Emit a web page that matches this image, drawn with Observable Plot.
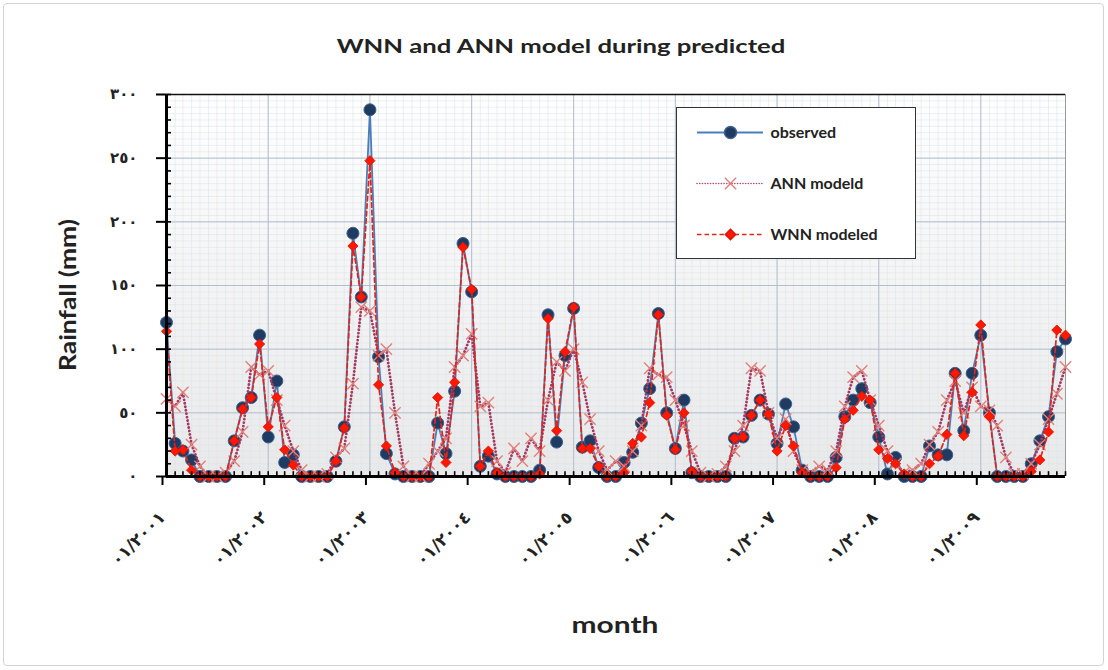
<!DOCTYPE html>
<html><head><meta charset="utf-8">
<script src="https://cdn.jsdelivr.net/npm/d3@7"></script>
<script src="https://cdn.jsdelivr.net/npm/@observablehq/plot@0.6"></script>
<style>
html,body{margin:0;padding:0;background:#fff;}
#chart{position:relative;width:1108px;height:670px;overflow:hidden;font-family:Lato,"DejaVu Sans",sans-serif;}
#frame{position:absolute;left:3px;top:3px;width:1101px;height:663px;border:1px solid #d4d4d4;border-radius:4px;box-sizing:border-box;}
#bg{position:absolute;left:166px;top:94px;width:899px;height:382px;background:linear-gradient(#ffffff,#e9e9e9);}
.lbl{position:absolute;font-weight:bold;color:#222;white-space:nowrap;}
#title{left:561px;top:45px;font-size:19px;transform:translate(-50%,-50%) scaleX(1.35);}
#xlab{left:615px;top:624px;font-size:23px;transform:translate(-50%,-50%) scaleX(1.3);}
#ylab{left:67px;top:295px;font-size:22px;transform:translate(-50%,-50%) rotate(-90deg) scaleX(1.2);}
#main{position:absolute;left:0;top:0;}
#legend{position:absolute;left:676px;top:107px;width:240px;height:152px;border:1.5px solid #333;background:#fff;box-sizing:border-box;}
</style></head>
<body>
<div id="chart">
  <div id="frame"></div>
  <div id="bg"></div>
  <div id="main"></div>
  <div id="legend"></div>
  <div class="lbl" id="title">WNN and ANN model during predicted</div>
  <div class="lbl" id="xlab">month</div>
  <div class="lbl" id="ylab">Rainfall (mm)</div>
</div>
<script>
// ---- data (monthly, Jan 2001 .. Nov 2009) ----
const observed = [121,26,20,13,0,0,0,0,28,54,62,111,
  31,75,11,17,0,0,0,0,12,39,191,141,
  288,94,18,2,0,0,0,0,42,18,67,183,
  145,8,16,2,0,0,0,0,5,127,27,95,
  132,23,28,7,0,0,11,19,42,69,128,50,
  22,60,3,0,0,0,0,30,31,48,60,49,
  26,57,39,5,0,0,0,15,47,60,69,58,
  31,2,15,0,0,0,24,17,17,81,36,81,
  111,50,0,0,0,0,10,28,47,98,108];
const annModel = [61,55,66,25,8,0,0,3,12,35,86,80,
  83,60,40,20,5,0,0,2,15,22,73,133,
  130,95,100,50,8,0,0,10,20,30,86,95,
  112,55,58,12,3,22,12,30,20,60,90,83,
  100,74,45,20,5,12,8,20,40,85,80,78,
  60,40,20,3,0,2,8,20,40,85,83,50,
  30,45,20,5,3,8,5,20,55,78,83,60,
  40,20,10,3,5,10,25,35,60,75,50,70,
  55,52,40,15,2,2,10,25,45,65,86];
const wnnModel = [114,20,21,5,0,0,0,0,28,53,62,104,
  39,62,21,9,0,0,0,0,12,38,181,141,
  248,72,24,3,0,0,0,0,62,11,74,180,
  147,8,20,3,0,0,0,0,2,124,36,98,
  133,22,22,8,0,0,3,26,31,58,127,48,
  21,50,4,0,0,0,0,30,31,48,60,49,
  20,40,24,3,0,0,0,7,45,52,63,60,
  21,14,10,2,0,0,10,16,33,81,32,66,
  119,47,0,0,0,0,4,13,35,115,111];
const years = [2001,2002,2003,2004,2005,2006,2007,2008,2009];
const xTickLabels = ["٠١/٢٠٠١","٠١/٢٠٠٢","٠١/٢٠٠٣","٠١/٢٠٠٤","٠١/٢٠٠٥","٠١/٢٠٠٦","٠١/٢٠٠٧","٠١/٢٠٠٨","٠١/٢٠٠٩"];
const yTicks = [0,50,100,150,200,250,300];
const yTickLabels = ["٠","٥٠","١٠٠","١٥٠","٢٠٠","٢٥٠","٣٠٠"];
const seriesNames = ["observed","ANN modeld","WNN modeled"];

// ---- build table ----
const months = d3.utcMonth.range(new Date(Date.UTC(2001,0,1)), new Date(Date.UTC(2009,11,1)));
const data = months.map((d,i)=>({date:d, obs:observed[i], ann:annModel[i], wnn:wnnModel[i]}));
const yearDates = years.map(y=>new Date(Date.UTC(y,0,1)));
const x0 = months[0], x1 = months[months.length-1];
const minorY = d3.range(0,301,10);
const minorGridY = d3.range(0,301,5);

const main = Plot.plot({
  width:1108, height:670,
  marginLeft:166, marginRight:43, marginTop:94, marginBottom:194,
  style:{background:"transparent", fontFamily:"'DejaVu Sans'", fontSize:"14px", fontWeight:"bold", color:"#222", overflow:"visible"},
  x:{type:"utc", domain:[x0,x1]},
  y:{domain:[0,300]},
  marks:[
    // minor grid
    Plot.ruleY(minorGridY, {stroke:"#dfe4ea", strokeWidth:0.6}),
    Plot.ruleX(months, {stroke:"#dfe4ea", strokeWidth:0.6}),
    // major grid
    Plot.ruleY(yTicks.slice(1,-1), {stroke:"#b2bfcf", strokeWidth:1}),
    Plot.ruleX(yearDates.slice(1), {stroke:"#b2bfcf", strokeWidth:1}),
    Plot.ruleY([300], {stroke:"#111", strokeWidth:1.5}),
    Plot.ruleX([x1], {stroke:"#9a9a9a", strokeWidth:1}),
    // observed
    Plot.line(data, {x:"date", y:"obs", stroke:"#4a7ebb", strokeWidth:1.8}),
    Plot.dot(data, {x:"date", y:"obs", r:6, fill:"#1f3b61", stroke:"#3d628f", strokeWidth:1}),
    // ANN
    Plot.line(data, {x:"date", y:"ann", stroke:"#a33a62", strokeWidth:2.8, strokeDasharray:"0.1,3.4", strokeLinecap:"round"}),
    Plot.dot(data, {x:"date", y:"ann", symbol:"times", r:5.2, stroke:"#e0807a", strokeWidth:1.4}),
    // WNN
    Plot.line(data, {x:"date", y:"wnn", stroke:"#e3241a", strokeWidth:1.7, strokeDasharray:"4.5,3"}),
    Plot.dot(data, {x:"date", y:"wnn", symbol:"diamond2", r:4.6, fill:"#ff1800", stroke:"#e01000", strokeWidth:0.8}),
    // axes lines
    Plot.ruleY([0], {stroke:"#000", strokeWidth:3}),
    Plot.ruleX([x0], {stroke:"#000", strokeWidth:3}),
    // minor ticks (inward)
    Plot.ruleX(months, {x:d=>d, y1:0, y2:3.8, stroke:"#000", strokeWidth:1.6}),
    Plot.ruleY(minorY, {y:d=>d, x1:x0, x2:new Date(Date.UTC(2001,0,19)), stroke:"#000", strokeWidth:1.6}),
    Plot.axisX(yearDates, {tickSize:9, tickPadding:29, tickRotate:-45, dx:-4, stroke:"#000", strokeWidth:2,
      tickFormat:d=>xTickLabels[years.indexOf(d.getUTCFullYear())], label:null, fontSize:17, fontWeight:"bold"}),
    Plot.axisY(yTicks, {tickSize:10, tickPadding:19, stroke:"#000", strokeWidth:2,
      tickFormat:d=>yTickLabels[yTicks.indexOf(d)], label:null, fontSize:15, fontWeight:"bold"})
  ]
});
document.getElementById("main").appendChild(main);

// ---- legend ----
const legend = Plot.plot({
  width:237, height:149, margin:0,
  style:{background:"transparent", fontFamily:"Lato", fontSize:"16px", fontWeight:"bold", color:"#222"},
  x:{domain:[0,237], range:[0,237], axis:null},
  y:{type:"point", domain:seriesNames, range:[23,126], padding:0, axis:null},
  marks:[
    Plot.ruleY([seriesNames[0]], {x1:20, x2:86, stroke:"#4a7ebb", strokeWidth:1.8}),
    Plot.dot([seriesNames[0]], {x:()=>53, y:d=>d, r:6, fill:"#1f3b61", stroke:"#3d628f"}),
    Plot.ruleY([seriesNames[1]], {x1:20, x2:86, stroke:"#b04a6c", strokeWidth:1.6, strokeDasharray:"0.1,2.6", strokeLinecap:"round"}),
    Plot.dot([seriesNames[1]], {x:()=>53, y:d=>d, symbol:"times", r:5.2, stroke:"#e0807a", strokeWidth:1.4}),
    Plot.ruleY([seriesNames[2]], {x1:20, x2:86, stroke:"#e3241a", strokeWidth:1.6, strokeDasharray:"4.5,3"}),
    Plot.dot([seriesNames[2]], {x:()=>53, y:d=>d, symbol:"diamond2", r:4.6, fill:"#ff1800", stroke:"#e01000"}),
    Plot.text(seriesNames, {x:()=>93, y:d=>d, text:d=>d, textAnchor:"start", fontSize:16, fontWeight:"bold", fill:"#222"})
  ]
});
document.getElementById("legend").appendChild(legend);
</script>
</body></html>
